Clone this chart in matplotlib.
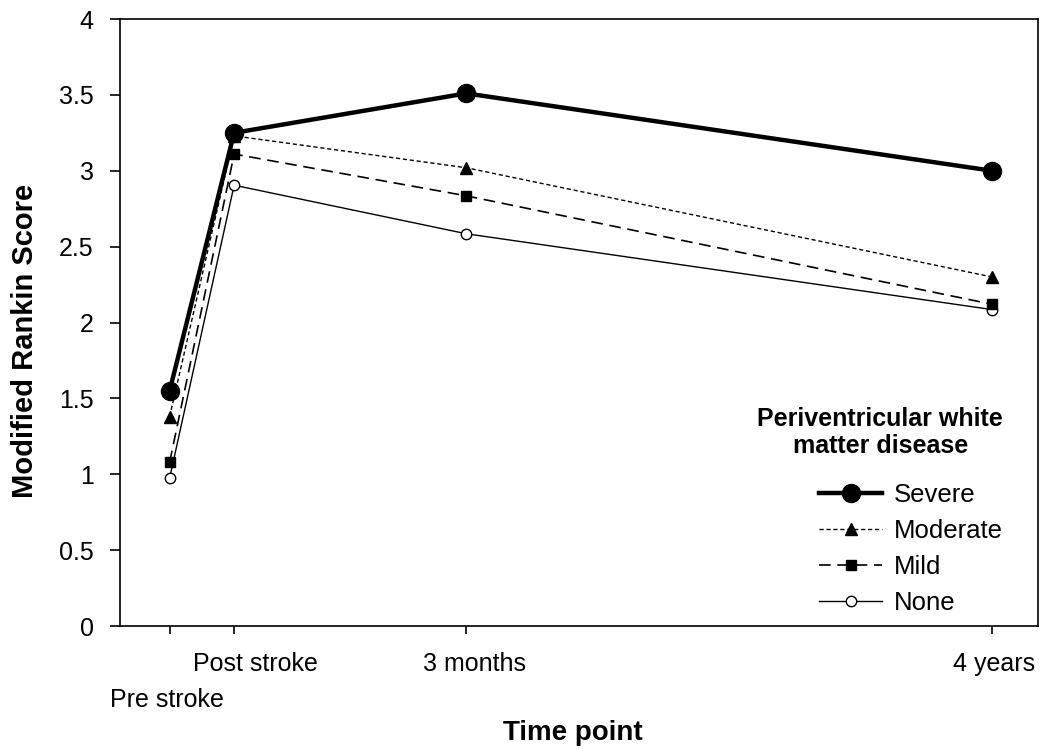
import matplotlib
matplotlib.use("Agg")
import matplotlib.pyplot as plt
from matplotlib.transforms import ScaledTranslation, blended_transform_factory

plt.rcParams['font.family'] = ['Liberation Sans', 'DejaVu Sans']

# time points (axis positions as drawn in the original)
time_labels = ["Pre stroke", "Post stroke", "3 months", "4 years"]
time_pos = [0, 1, 4.6, 12.76]

# modified rankin scores per group
severe = [1.55, 3.25, 3.51, 3.00]
moderate = [1.38, 3.23, 3.02, 2.30]
mild = [1.08, 3.11, 2.835, 2.12]
none = [0.975, 2.905, 2.585, 2.085]

fig = plt.figure(figsize=(10.5, 7.49), dpi=100)
ax = fig.add_axes([0.1143, 0.1642, 0.8743, 0.8104])

ax.plot(time_pos, severe, color='black', lw=3.2, marker='o', ms=13,
        label='Severe', zorder=5)
ax.plot(time_pos, moderate, color='black', lw=1.0, ls=(0, (3, 2)),
        marker='^', ms=8.5, label='Moderate', zorder=4)
ax.plot(time_pos, mild, color='black', lw=1.2, ls=(0, (7, 4)),
        marker='s', ms=7.5, label='Mild', zorder=3)
ax.plot(time_pos, none, color='black', lw=1.0, marker='o', ms=7.5,
        mfc='white', mec='black', mew=1.0, label='None', zorder=2)

ax.set_xlim(-0.77, 13.47)
ax.set_ylim(0, 4)
ax.set_yticks([0, 0.5, 1, 1.5, 2, 2.5, 3, 3.5, 4])
ax.set_yticklabels(['0', '0.5', '1', '1.5', '2', '2.5', '3', '3.5', '4'])
ax.set_xticks(time_pos)
ax.set_xticklabels([])

# the time labels sit a bit off their ticks in the original (inches)
offsets = [(-0.03, -0.74), (0.21, -0.38), (0.08, -0.38), (0.02, -0.38)]
base = blended_transform_factory(ax.transData, ax.transAxes)
for x, txt, (dx, dy) in zip(time_pos, time_labels, offsets):
    ax.text(x, 0, txt, fontsize=18, ha='center', va='center',
            transform=base + ScaledTranslation(dx, dy, fig.dpi_scale_trans))

ax.tick_params(axis='both', direction='out', width=1.2,
               labelsize=18, color='black')
ax.tick_params(axis='x', length=6)
ax.tick_params(axis='y', length=7, pad=12)
for sp in ax.spines.values():
    sp.set_linewidth(1.2)

ax.set_xlabel('Time point', fontsize=20, fontweight='bold')
ax.xaxis.set_label_coords(0.493, -0.155)
ax.set_ylabel('Modified Rankin Score', fontsize=21, fontweight='bold')
ax.yaxis.set_label_coords(-0.088, 0.47)

leg = ax.legend(title='Periventricular white\nmatter disease', loc='center',
                bbox_to_anchor=(0.828, 0.19), frameon=False, fontsize=18.5,
                handlelength=2.45, labelspacing=0.47, handletextpad=0.45,
                alignment='right')
leg.get_title().set_fontweight('bold')
leg.get_title().set_fontsize(18)
leg.get_title().set_multialignment('center')
leg._legend_box.sep = 17.5

fig.savefig('out.png', dpi=100)
